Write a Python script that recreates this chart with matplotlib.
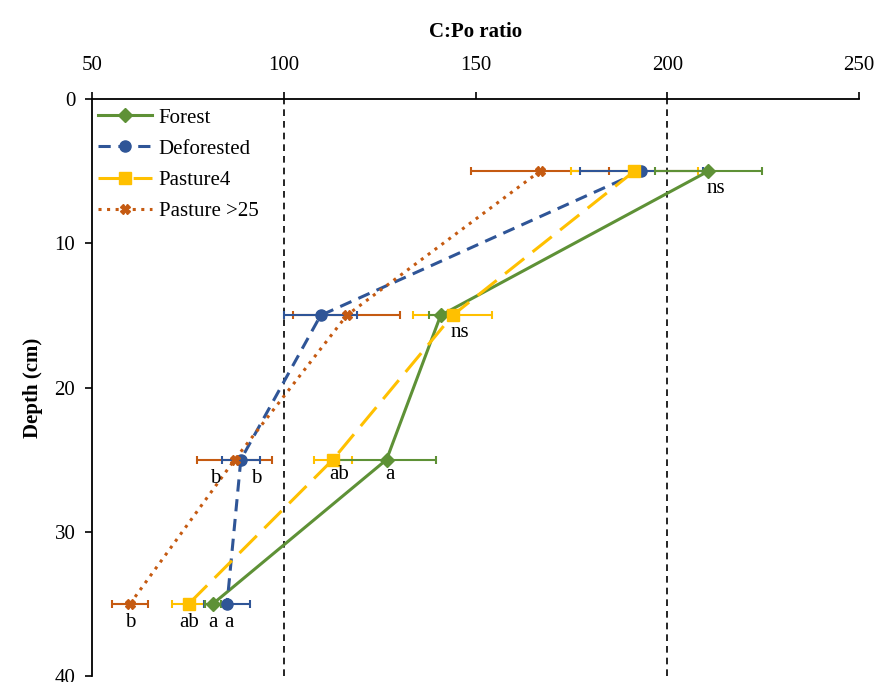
import matplotlib.pyplot as plt

depth = [5, 15, 25, 35]

forest = [210.7, 140.9, 126.8, 81.5]
forest_err = [14.0, 3.0, 13.0, 2.0]
deforested = [193.2, 109.6, 88.8, 85.2]
deforested_err = [16.0, 9.6, 5.0, 6.0]
pasture4 = [191.4, 144.0, 112.8, 75.2]
pasture4_err = [16.5, 10.4, 5.0, 4.3]
pasture25 = [166.8, 116.4, 87.2, 59.9]
pasture25_err = [18.0, 14.0, 9.7, 4.7]

forest_lab = ['ns', 'ns', 'a', 'a']
deforested_lab = ['', '', 'b', 'a']
pasture4_lab = ['', '', 'ab', 'ab']
pasture25_lab = ['', '', 'b', 'b']

plt.rcParams['font.family'] = ['Liberation Serif', 'DejaVu Serif']

fig = plt.figure(figsize=(8.79, 6.82), dpi=100)
ax = fig.add_axes([0.1047, 0.0088, 0.8726, 0.846])

series = [
    ('Forest', forest, forest_err, '#5E9136', '-', 'D', 2.2, 7),
    ('Deforested', deforested, deforested_err, '#2F5597', (0, (4, 2.5)), 'o', 2.2, 8),
    ('Pasture4', pasture4, pasture4_err, '#FFC000', (0, (8, 3.5)), 's', 2.2, 8),
    ('Pasture >25', pasture25, pasture25_err, '#C55A11', (0, (1, 1.8)), 'X', 2.2, 7),
]

for name, vals, err, col, ls, mk, lw, ms in series[::-1]:
    ax.errorbar(vals, depth, xerr=err, color=col, ecolor=col, elinewidth=1.5,
                capsize=3, capthick=1.5, fmt='none', zorder=2)
for name, vals, err, col, ls, mk, lw, ms in series:
    ax.plot(vals, depth, color=col, linestyle=ls, linewidth=lw, marker=mk,
            markersize=ms, label=name, zorder=3)

ax.axvline(100, color='black', linestyle=(0, (4, 3)), linewidth=1.2, zorder=1)
ax.axvline(200, color='black', linestyle=(0, (4, 3)), linewidth=1.2, zorder=1)

# significance letters
fs = 15
ax.text(forest[0] + 2, 6.2, forest_lab[0], fontsize=fs, ha='center', va='center')
ax.text(pasture4[1] + 2, 16.2, forest_lab[1], fontsize=fs, ha='center', va='center')
ax.text(forest[2] + 1, 26.0, forest_lab[2], fontsize=fs, ha='center', va='center')
ax.text(pasture4[2] + 1.5, 26.0, pasture4_lab[2], fontsize=fs, ha='center', va='center')
ax.text(pasture25[2] - 5, 26.3, pasture25_lab[2], fontsize=fs, ha='center', va='center')
ax.text(deforested[2] + 4, 26.3, deforested_lab[2], fontsize=fs, ha='center', va='center')
ax.text(pasture25[3], 36.3, pasture25_lab[3], fontsize=fs, ha='center', va='center')
ax.text(pasture4[3], 36.3, pasture4_lab[3], fontsize=fs, ha='center', va='center')
ax.text(forest[3], 36.3, forest_lab[3], fontsize=fs, ha='center', va='center')
ax.text(deforested[3] + 0.5, 36.3, deforested_lab[3], fontsize=fs, ha='center', va='center')

ax.set_xlim(50, 250)
ax.set_ylim(40, 0)
ax.set_xticks([50, 100, 150, 200, 250])
ax.set_yticks([0, 10, 20, 30, 40])
ax.xaxis.tick_top()
ax.xaxis.set_label_position('top')
ax.tick_params(axis='both', labelsize=15, direction='out', length=5, width=1.2)
ax.tick_params(axis='x', pad=12)
ax.tick_params(axis='y', pad=7)
ax.set_xlabel('C:Po ratio', fontsize=15, fontweight='bold', labelpad=14)
ax.set_ylabel('Depth (cm)', fontsize=15, fontweight='bold', labelpad=8)

ax.spines['right'].set_visible(False)
ax.spines['bottom'].set_visible(False)
ax.spines['top'].set_linewidth(1.3)
ax.spines['left'].set_linewidth(1.3)

ax.legend(loc='upper left', frameon=False, fontsize=15, handlelength=2.6,
          borderaxespad=0.0, labelspacing=0.55, handletextpad=0.3,
          borderpad=0.3, bbox_to_anchor=(0.0, 0.995))

fig.savefig('out.png', dpi=100)
